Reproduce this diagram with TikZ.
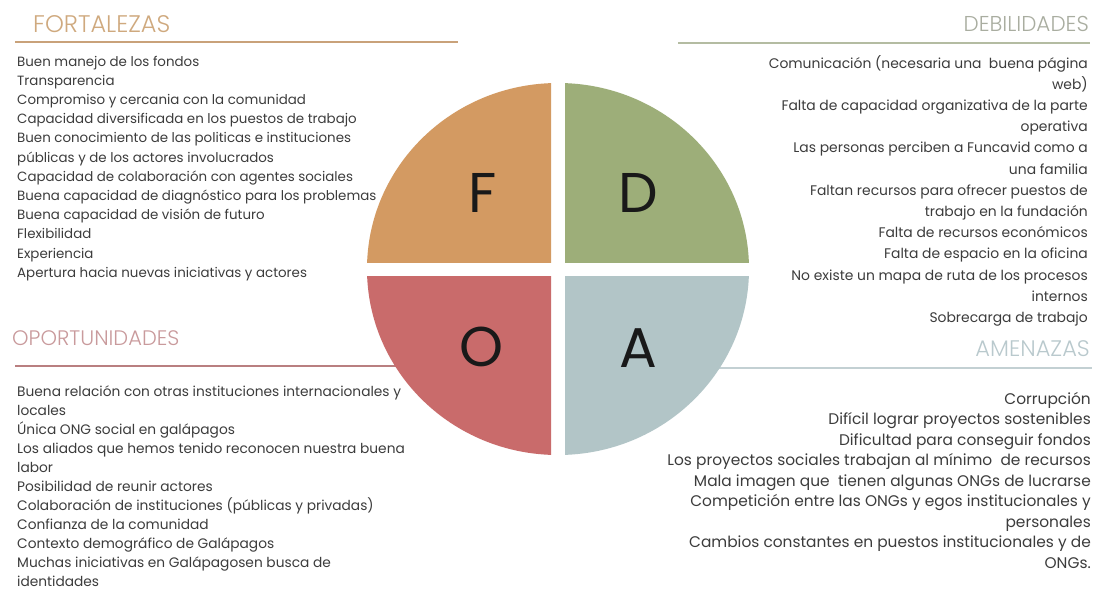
\documentclass[tikz,border=0pt]{standalone}
\usepackage{fontspec}
\setmainfont{Poppins}
\newfontfamily\lightfont{Poppins Light}
\definecolor{forc}{HTML}{D39A62}
\definecolor{debc}{HTML}{9DAE79}
\definecolor{opoc}{HTML}{C96B6B}
\definecolor{amec}{HTML}{B2C5C7}
\definecolor{forh}{HTML}{CFA97E}
\definecolor{debh}{HTML}{A9ADA0}
\definecolor{opoh}{HTML}{C99A9C}
\definecolor{ameh}{HTML}{B9C9CD}
\definecolor{forl}{HTML}{C9A27A}
\definecolor{debl}{HTML}{B4BCA2}
\definecolor{opol}{HTML}{B97F80}
\definecolor{amel}{HTML}{C3D0D3}
\definecolor{txt}{HTML}{3C3C3C}
\begin{document}
\begin{tikzpicture}[x=1pt,y=-1pt,
  itemf/.style={text=txt, inner sep=0pt, font=\fontsize{13.4}{15}\selectfont},
  itemo/.style={text=txt, inner sep=0pt, font=\fontsize{13.75}{15}\selectfont},
  itemd/.style={text=txt, inner sep=0pt, font=\fontsize{13.9}{16}\selectfont},
  itema/.style={text=txt, inner sep=0pt, font=\fontsize{15.4}{17}\selectfont},
  hdr/.style={inner sep=0pt},
  letter/.style={inner sep=0pt, text=black!90, font=\fontsize{56}{60}\selectfont},
  rule/.style={line width=1.2pt}]
\useasboundingbox[fill=white] (0,0) rectangle (1101,590);

% header rules
\draw[rule, forl] (15,42) -- (458,42);
\draw[rule, debl] (678,43) -- (1090,43);
\draw[rule, opol] (15,366) -- (420,366);
\draw[rule, amel] (715,368) -- (1092,368);

% quadrants
\begin{scope}
  \clip (300,50) rectangle (551,262);
  \fill[forc] (558,269) ellipse [x radius=191, y radius=186];
\end{scope}
\begin{scope}
  \clip (565,50) rectangle (800,262);
  \fill[debc] (558,269) ellipse [x radius=191, y radius=186];
\end{scope}
\begin{scope}
  \clip (300,276) rectangle (551,500);
  \fill[opoc] (558,269) ellipse [x radius=191, y radius=186];
\end{scope}
\begin{scope}
  \clip (565,276) rectangle (800,500);
  \fill[amec] (558,269) ellipse [x radius=191, y radius=186];
\end{scope}

\node[letter] (F) at (483,193) {F};
\node[letter] (D) at (638,193) {D};
\node[letter] (O) at (482,347) {O};
\node[letter] (A) at (638,348) {A};

% headers
\node[hdr, text=forh, anchor=base west, font=\lightfont\fontsize{24}{26}\selectfont] (fortH) at (33,32) {FORTALEZAS};
\node[hdr, text=debh, anchor=base east, font=\lightfont\fontsize{21.5}{26}\selectfont] (debH) at (1089,31) {DEBILIDADES};
\node[hdr, text=opoh, anchor=base west, font=\lightfont\fontsize{21}{24}\selectfont] (opoH) at (12,345) {OPORTUNIDADES};
\node[hdr, text=ameh, anchor=base east, font=\lightfont\fontsize{22.5}{26}\selectfont] (ameH) at (1090,356) {AMENAZAS};

% fortalezas
\foreach \t [count=\i from 0] in {Buen manejo de los fondos, Transparencia,
  Compromiso y cercania con la comunidad,
  Capacidad diversificada en los puestos de trabajo,
  Buen conocimiento de las politicas e instituciones,
  públicas y de los actores involucrados,
  Capacidad de colaboración con agentes sociales,
  Buena capacidad de diagnóstico para los problemas,
  Buena capacidad de visión de futuro, Flexibilidad, Experiencia,
  Apertura hacia nuevas iniciativas y actores}
  \node[itemf, anchor=base west] (fo\i) at (17,66+19.2*\i) {\t};

% debilidades
\foreach \t [count=\i from 0] in {Comunicación (necesaria una\ \ buena página, web),
  Falta de capacidad organizativa de la parte, operativa,
  Las personas perciben a Funcavid como a, una familia,
  Faltan recursos para ofrecer puestos de, trabajo en la fundación,
  Falta de recursos económicos, Falta de espacio en la oficina,
  No existe un mapa de ruta de los procesos, internos,
  Sobrecarga de trabajo}
  \node[itemd, anchor=base east] (de\i) at (1088,68+21.2*\i) {\t};

% oportunidades
\foreach \t [count=\i from 0] in {Buena relación con otras instituciones internacionales y,
  locales, Única ONG social en galápagos,
  Los aliados que hemos tenido reconocen nuestra buena, labor,
  Posibilidad de reunir actores,
  Colaboración de instituciones (públicas y privadas),
  Confianza de la comunidad, Contexto demográfico de Galápagos,
  Muchas iniciativas en Galápagosen busca de, identidades}
  \node[itemo, anchor=base west] (op\i) at (17,396+19.05*\i) {\t};

% amenazas
\foreach \t [count=\i from 0] in {Corrupción, Difícil lograr proyectos sostenibles,
  Dificultad para conseguir fondos,
  Los proyectos sociales trabajan al mínimo\ \ de recursos,
  Mala imagen que\ \ tienen algunas ONGs de lucrarse,
  Competición entre las ONGs y egos institucionales y, personales,
  Cambios constantes en puestos institucionales y de, ONGs.}
  \node[itema, anchor=base east] (am\i) at (1091,404+20.5*\i) {\t};
\end{tikzpicture}
\end{document}
